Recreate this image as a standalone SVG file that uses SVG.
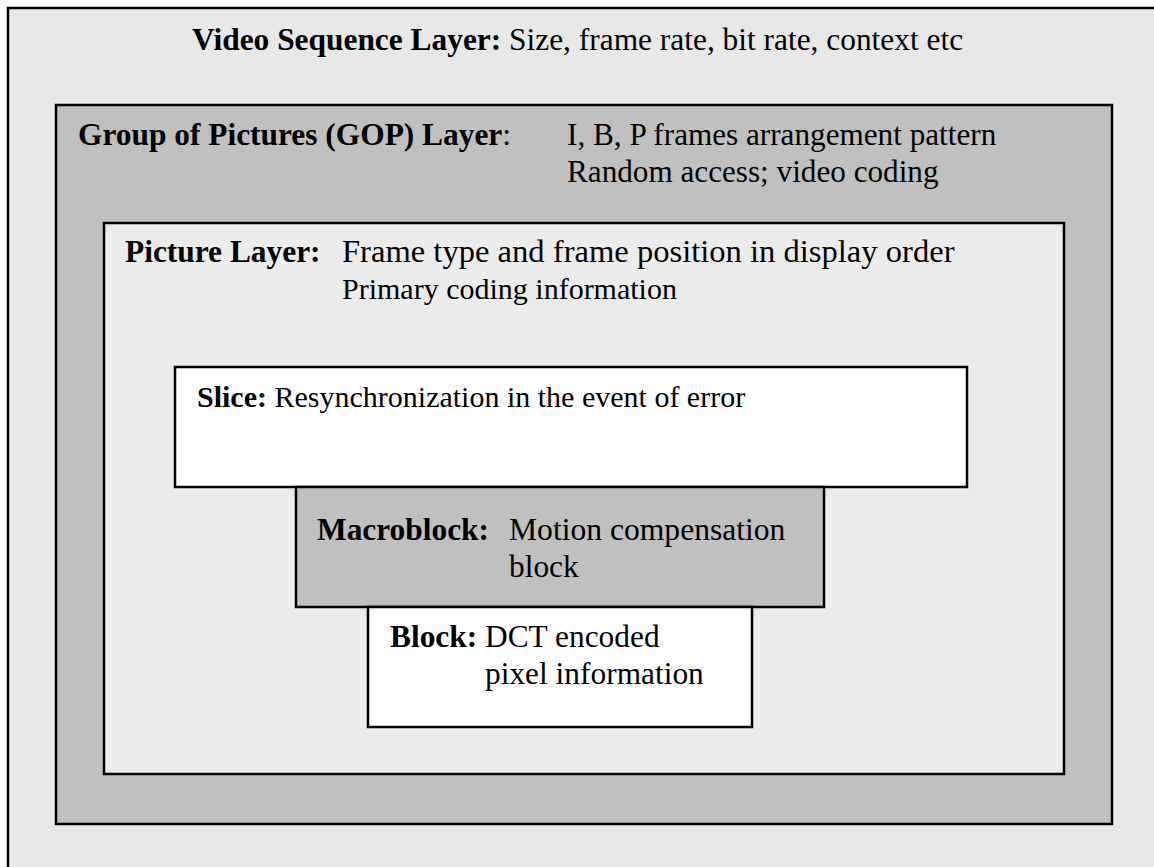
<svg xmlns="http://www.w3.org/2000/svg" width="1154" height="867" viewBox="0 0 1154 867">
  <style>
    .box { stroke: #000; stroke-width: 2.5; }
    .t { font-family: "Liberation Serif", "Times New Roman", serif; font-size: 31.4px; fill: #000; }
    .b { font-weight: bold; }
  </style>
  <rect x="0" y="0" width="1154" height="867" fill="#ffffff"/>

  <g id="video-sequence">
    <rect class="box" x="8" y="8" width="1170" height="880" fill="#e8e8e8"/>
    <text class="t" x="192" y="50"><tspan class="b">Video Sequence Layer:</tspan> Size, frame rate, bit rate, context etc</text>
  </g>

  <g id="gop">
    <rect class="box" x="56" y="105" width="1056" height="719" fill="#c0c0c0"/>
    <text class="t b" x="78" y="145">Group of Pictures (GOP) Layer<tspan font-weight="normal">:</tspan></text>
    <text class="t" x="567" y="145" style="font-size:31.2px">I, B, P frames arrangement pattern</text>
    <text class="t" x="567" y="182" style="font-size:31.2px">Random access; video coding</text>
  </g>

  <g id="picture">
    <rect class="box" x="104" y="223" width="960" height="551" fill="#ececec"/>
    <text class="t b" x="125" y="262">Picture Layer:</text>
    <text class="t" x="342" y="262" style="font-size:32.6px">Frame type and frame position in display order</text>
    <text class="t" x="342" y="299" style="font-size:30px">Primary coding information</text>
  </g>

  <g id="slice">
    <rect class="box" x="175" y="367" width="792" height="120" fill="#ffffff"/>
    <text class="t" x="197" y="407" style="font-size:30px"><tspan class="b">Slice:</tspan> Resynchronization in the event of error</text>
  </g>

  <g id="macroblock">
    <rect class="box" x="296" y="487" width="528" height="120" fill="#c0c0c0"/>
    <text class="t b" x="317" y="540">Macroblock:</text>
    <text class="t" x="509" y="540" style="font-size:31.6px">Motion compensation</text>
    <text class="t" x="509" y="577">block</text>
  </g>

  <g id="block">
    <rect class="box" x="368" y="607" width="384" height="120" fill="#ffffff"/>
    <text class="t b" x="390" y="647">Block:</text>
    <text class="t" x="485" y="647">DCT encoded</text>
    <text class="t" x="485" y="684">pixel information</text>
  </g>

  <g id="connectors"></g>
</svg>
